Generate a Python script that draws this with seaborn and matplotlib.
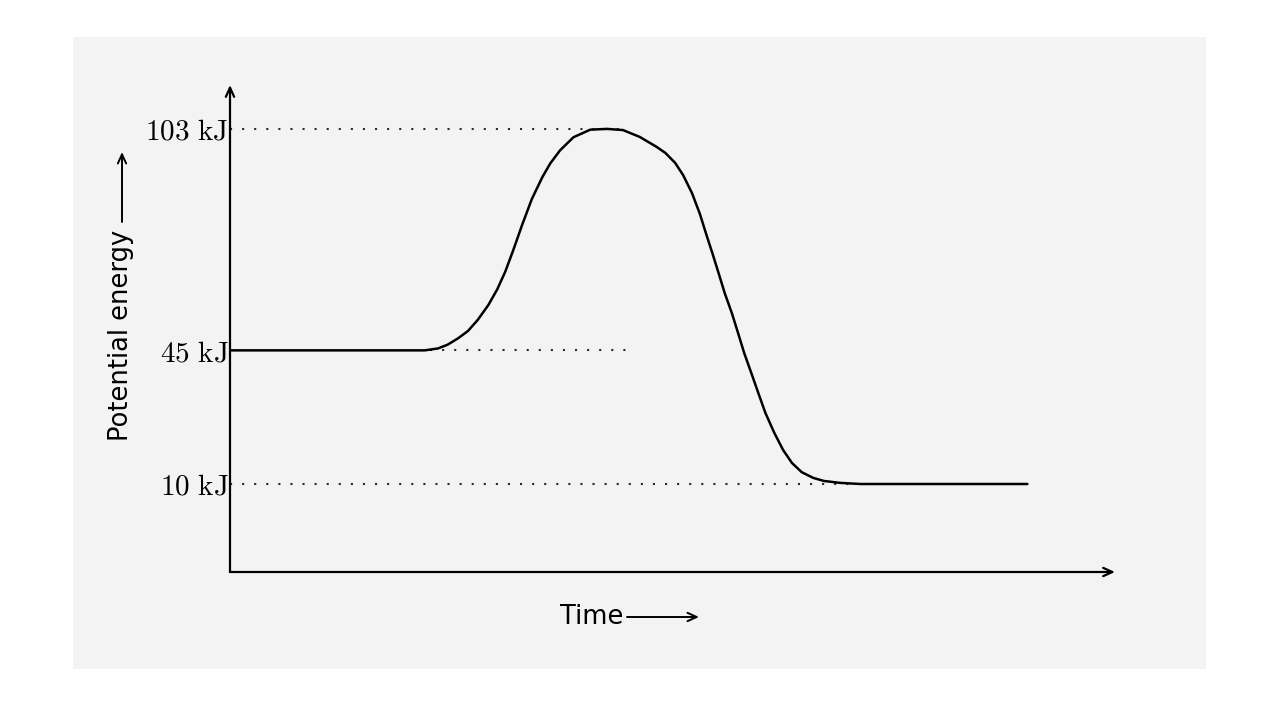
import matplotlib
matplotlib.use("Agg")
import pandas as pd
import matplotlib.pyplot as plt
import seaborn as sns
from matplotlib.patches import Rectangle

# Energy profile (time in arbitrary units, energy in kJ)
time = [0.0, 2.20, 2.35, 2.46, 2.58, 2.69, 2.80, 2.92, 3.02, 3.11, 3.20, 3.30, 3.41,
        3.53, 3.62, 3.73, 3.88, 4.07, 4.26,
        4.44, 4.63, 4.82, 4.92, 5.03, 5.12, 5.22, 5.31, 5.38, 5.45, 5.52, 5.59, 5.67,
        5.74, 5.81, 5.89, 5.97, 6.05, 6.15, 6.25, 6.35, 6.46, 6.59, 6.71, 6.89, 7.12, 9.01]
energy = [45.0, 45.0, 45.5, 46.5, 48.2, 50.1, 53.0, 56.9, 61.0, 65.6, 71.2, 77.8, 84.6,
          90.4, 94.0, 97.4, 100.8, 102.8, 103.0,
          102.7, 100.9, 98.3, 96.7, 94.1, 90.9, 86.2, 80.7, 75.5, 70.5, 65.3, 60.0, 54.8,
          49.6, 44.3, 39.1, 33.8, 28.6, 23.4, 18.9, 15.5, 13.1, 11.6, 10.8, 10.3, 10.0, 10.0]

# Reference levels and their dotted guides
levels = [103, 45, 10]
level_labels = [r"$103\ \mathrm{kJ}$", r"$45\ \mathrm{kJ}$", r"$10\ \mathrm{kJ}$"]
guide_start = [0.0, 2.26, 0.0]
guide_end = [4.49, 4.49, 7.0]

sns.set_theme(style="white")
plt.rcParams["mathtext.fontset"] = "cm"
plt.rcParams["font.family"] = ["DejaVu Sans"]
plt.rcParams["text.color"] = "black"
plt.rcParams["ytick.color"] = "black"
plt.rcParams["ytick.labelcolor"] = "black"

fig = plt.figure(figsize=(12.8, 7.2), dpi=100)
fig.patch.set_facecolor("white")
fig.patches.append(Rectangle((73 / 1280, 1 - 669 / 720), (1206 - 73) / 1280, (669 - 37) / 720,
                             transform=fig.transFigure, facecolor="#f3f3f3",
                             edgecolor="none", zorder=-5))

ax = fig.add_axes([230 / 1280, 148 / 720, 885 / 1280, 487 / 720])
ax.set_facecolor("none")

# dotted guides
for lvl, x0, x1 in zip(levels, guide_start, guide_end):
    sns.lineplot(x=[x0, x1], y=[lvl, lvl], color="#2a2a2a", linewidth=1.5,
                 linestyle=(0, (1, 4.8)), ax=ax, zorder=1)

# energy curve
curve_df = pd.DataFrame({"Time": time, "Energy": energy})
sns.lineplot(data=curve_df, x="Time", y="Energy", color="black", linewidth=1.8,
             sort=False, ax=ax, zorder=2)

ax.set_xlim(0, 10)
ax.set_ylim(-13.05, 114.5)
ax.set_xticks([])
ax.set_yticks(levels, labels=level_labels)
ax.tick_params(axis="y", length=0, pad=1, labelsize=21, labelcolor="black")
ax.set_xlabel("")
ax.set_ylabel("")
for s in ax.spines.values():
    s.set_visible(False)

# axis arrows
arrow = dict(arrowstyle="->,head_length=0.55,head_width=0.25", lw=1.6, color="black",
             shrinkA=0, shrinkB=0)
ax.annotate("", xy=(1, 0), xytext=(0, 0), xycoords="axes fraction", arrowprops=arrow)
ax.annotate("", xy=(0, 1), xytext=(0, 0), xycoords="axes fraction", arrowprops=arrow)

# axis titles with arrows
fig.text(121 / 1280, 1 - 335 / 720, "Potential energy", rotation=90,
         ha="center", va="center", fontsize=18.5, color="black")
ax.annotate("", xy=(122 / 1280, 1 - 152 / 720), xytext=(122 / 1280, 1 - 222 / 720),
            xycoords="figure fraction", arrowprops=dict(arrow, lw=1.4))
fig.text(592 / 1280, 1 - 617 / 720, "Time", ha="center", va="center", fontsize=18.5,
         color="black")
ax.annotate("", xy=(699 / 1280, 1 - 617 / 720), xytext=(627 / 1280, 1 - 617 / 720),
            xycoords="figure fraction", arrowprops=dict(arrow, lw=1.4))

fig.savefig("out.png", dpi=100)
